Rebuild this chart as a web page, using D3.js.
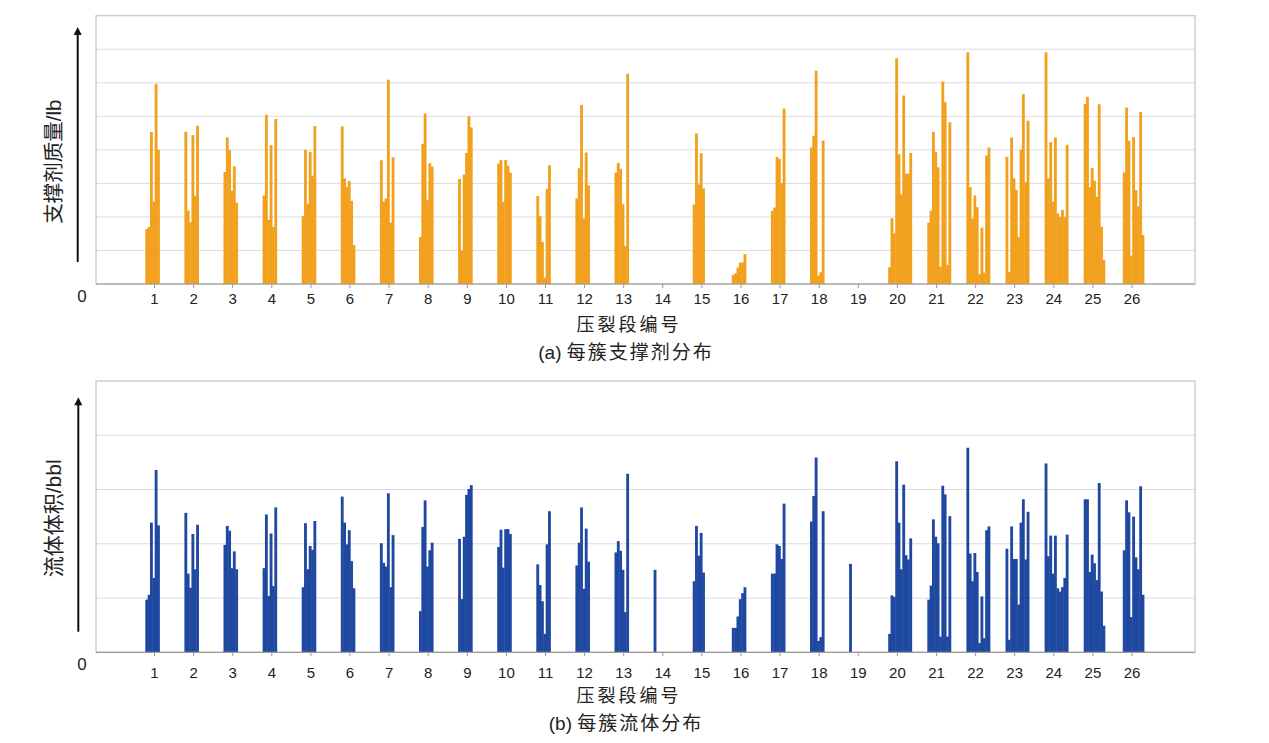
<!DOCTYPE html>
<html>
<head>
<meta charset="utf-8">
<script src="https://cdn.jsdelivr.net/npm/d3@7"></script>
<style>
  body { margin: 0; background: #fff; }
  text { font-family: "Liberation Sans", Arial, "Noto Sans CJK SC", sans-serif; fill: #222; }
  .cjk { font-family: "Liberation Sans", "Noto Sans CJK SC", sans-serif; }
</style>
</head>
<body>
<div id="chart"></div>
<script>
// stage numbers on the x axis
var stages = d3.range(1, 27);

// proppant per cluster, one list per stage (in grid units, no scale shown)
var proppant = [
  [1.64, 1.70, 4.53, 2.46, 5.97, 4.00],
  [4.54, 2.19, 1.84, 4.44, 2.63, 4.72],
  [3.34, 4.37, 3.99, 2.78, 3.51, 2.42],
  [2.64, 5.05, 1.91, 4.14, 1.70, 4.92],
  [2.03, 4.00, 2.39, 3.94, 3.23, 4.71],
  [4.70, 3.15, 2.89, 3.07, 2.48, 1.16],
  [3.69, 2.46, 2.55, 6.09, 1.83, 3.78],
  [1.40, 4.18, 5.08, 2.50, 3.60, 3.50],
  [3.13, 1.00, 3.26, 3.91, 5.00, 4.67],
  [3.59, 3.70, 2.45, 3.70, 3.53, 3.32],
  [2.62, 2.02, 1.25, 0.19, 2.84, 3.54],
  [2.55, 3.45, 5.34, 1.95, 3.92, 2.94],
  [3.32, 3.61, 3.43, 2.38, 1.13, 6.27],
  [],
  [2.37, 4.49, 2.97, 3.90, 2.85],
  [0.27, 0.32, 0.49, 0.64, 0.64, 0.89],
  [2.18, 2.28, 3.79, 3.73, 3.01, 5.23],
  [4.07, 4.42, 6.36, 0.25, 0.35, 4.28],
  [],
  [0.50, 1.96, 1.51, 6.73, 3.87, 2.67, 5.62, 3.29, 3.29, 3.91],
  [1.83, 2.18, 4.54, 3.94, 3.48, 0.51, 6.04, 5.42, 0.57, 4.82],
  [6.91, 2.89, 1.95, 2.64, 2.29, 0.29, 1.68, 0.34, 3.83, 4.07],
  [3.79, 0.36, 4.37, 3.15, 2.81, 1.40, 4.00, 5.66, 3.04, 4.87],
  [6.91, 3.15, 4.23, 2.46, 4.37, 2.10, 2.00, 2.21, 2.00, 4.15],
  [5.37, 5.58, 2.89, 3.46, 3.08, 2.60, 5.36, 1.71, 0.72],
  [3.33, 5.26, 4.27, 0.84, 4.38, 2.80, 2.31, 5.13, 1.46]
];

// fluid volume per cluster, one list per stage
var fluid = [
  [0.97, 1.06, 2.39, 1.37, 3.36, 2.34],
  [2.57, 1.45, 1.19, 2.18, 1.53, 2.35],
  [1.98, 2.33, 2.24, 1.55, 1.86, 1.53],
  [1.55, 2.54, 1.04, 2.19, 1.22, 2.67],
  [1.20, 2.38, 1.53, 1.96, 1.89, 2.42],
  [2.87, 2.39, 1.99, 2.25, 1.68, 1.18],
  [2.01, 1.65, 1.58, 2.93, 1.20, 2.16],
  [0.76, 2.31, 2.80, 1.58, 1.88, 2.02],
  [2.09, 0.98, 2.13, 2.90, 3.01, 3.08],
  [1.94, 2.26, 1.56, 2.27, 2.27, 2.18],
  [1.62, 1.24, 0.94, 0.34, 1.99, 2.60],
  [1.60, 2.02, 2.67, 1.17, 2.28, 1.67],
  [1.84, 2.05, 1.87, 1.52, 0.74, 3.29],
  [1.52],
  [1.31, 2.33, 1.78, 2.20, 1.47],
  [0.45, 0.45, 0.66, 0.98, 1.09, 1.20],
  [1.45, 1.45, 1.99, 1.96, 1.72, 2.74],
  [2.41, 2.88, 3.59, 0.21, 0.28, 2.60],
  [1.63],
  [0.34, 1.05, 1.02, 3.52, 2.39, 1.53, 3.09, 1.79, 1.71, 2.10],
  [0.97, 1.23, 2.45, 2.13, 2.01, 0.29, 3.07, 2.91, 0.29, 2.51],
  [3.77, 1.82, 1.31, 1.83, 1.48, 0.17, 1.03, 0.26, 2.25, 2.32],
  [1.91, 0.23, 2.32, 1.72, 1.72, 0.88, 2.39, 2.82, 1.71, 2.59],
  [3.48, 1.77, 2.15, 1.45, 2.15, 1.18, 1.12, 1.20, 1.37, 2.17],
  [2.82, 2.82, 1.48, 1.80, 1.64, 1.33, 3.12, 1.12, 0.49],
  [1.88, 2.80, 2.58, 0.65, 2.50, 1.75, 1.53, 3.06, 1.06]
];

var W = 1269, H = 743;
var plotLeft = 96, plotRight = 1195;

var svg = d3.select("#chart").append("svg")
    .attr("width", W)
    .attr("height", H);

var xscale = d3.scaleLinear()
    .domain([1, 26])
    .range([154, 1131.5]);

// cluster slot width and group start, in stage units
var slot = 0.06;
var groupStart = -0.2225;

function drawPanel(cfg){
  var g = svg.append("g");

  var yscale = d3.scaleLinear()
      .domain([0, cfg.max])
      .range([cfg.bottom, cfg.top]);

  // gridlines
  g.selectAll(".grid").data(d3.range(1, cfg.max))
    .enter().append("line")
      .attr("x1", plotLeft).attr("x2", plotRight)
      .attr("y1", function(d){ return yscale(d); })
      .attr("y2", function(d){ return yscale(d); })
      .attr("stroke", "#dcdcdc")
      .attr("stroke-width", 1);

  // frame
  g.append("rect")
      .attr("x", plotLeft).attr("y", yscale(cfg.max))
      .attr("width", plotRight - plotLeft)
      .attr("height", yscale(0) - yscale(cfg.max))
      .attr("fill", "none")
      .attr("stroke", "#c4c4c4")
      .attr("stroke-width", 1.2);

  // bars
  var bars = [];
  cfg.data.forEach(function(vals, si){
    vals.forEach(function(v, i){
      bars.push({ stage: stages[si], i: i, v: v });
    });
  });
  var bw = xscale(1 + slot) - xscale(1);
  g.selectAll(".bar").data(bars)
    .enter().append("rect")
      .attr("class", "bar")
      .attr("x", function(d){ return xscale(d.stage + groupStart + d.i * slot); })
      .attr("width", bw + 0.5)
      .attr("y", function(d){ return yscale(d.v); })
      .attr("height", function(d){ return yscale(0) - yscale(d.v); })
      .attr("fill", cfg.color);

  // baseline
  g.append("line")
      .attr("x1", plotLeft).attr("x2", plotRight)
      .attr("y1", yscale(0)).attr("y2", yscale(0))
      .attr("stroke", "#9a9a9a")
      .attr("stroke-width", 1.2);

  // x axis
  var axis = d3.axisBottom(xscale)
      .tickValues(stages)
      .tickFormat(d3.format("d"))
      .tickSize(4)
      .tickPadding(cfg.tickPad);
  var ax = g.append("g")
      .attr("transform", "translate(0," + yscale(0) + ")")
      .call(axis);
  ax.select(".domain").remove();
  ax.selectAll(".tick line").attr("stroke", "#9a9a9a");
  ax.selectAll(".tick text")
      .attr("fill", "#222")
      .style("font-size", "15px")
      .style("font-family", "'Liberation Sans', Arial, sans-serif");

  // zero label
  g.append("text")
      .attr("x", 82).attr("y", cfg.zeroY)
      .attr("text-anchor", "middle")
      .style("font-size", "17px")
      .text("0");

  // y arrow
  g.append("line")
      .attr("x1", cfg.arrowX).attr("x2", cfg.arrowX)
      .attr("y1", cfg.arrowFrom).attr("y2", cfg.arrowTo + 7)
      .attr("stroke", "#111")
      .attr("stroke-width", 2);
  g.append("path")
      .attr("d", "M" + (cfg.arrowX - 4) + "," + (cfg.arrowTo + 8) +
                 "L" + (cfg.arrowX + 4) + "," + (cfg.arrowTo + 8) +
                 "L" + cfg.arrowX + "," + cfg.arrowTo + "Z")
      .attr("fill", "#111");

  // y title
  g.append("text")
      .attr("class", "cjk")
      .attr("transform", "translate(53.5," + cfg.yTitleY + ") rotate(-90)")
      .attr("text-anchor", "middle")
      .attr("dominant-baseline", "central")
      .style("font-size", cfg.yTitleSize + "px")
      .text(cfg.yTitle);

  // x title and caption
  g.append("text")
      .attr("class", "cjk")
      .attr("x", 629).attr("y", cfg.xTitleY)
      .attr("text-anchor", "middle")
      .style("font-size", "18px")
      .style("letter-spacing", "3px")
      .text("压裂段编号");
  var cap = g.append("text")
      .attr("class", "cjk")
      .attr("x", 626).attr("y", cfg.captionY)
      .attr("text-anchor", "middle")
      .style("font-size", "19px");
  cap.append("tspan").text(cfg.captionTag + " ");
  cap.append("tspan").style("letter-spacing", "2px").text(cfg.caption);
}

drawPanel({
  data: proppant, max: 8, top: 15.7, bottom: 284, color: "#F2A11F",
  tickPad: 5, zeroY: 301.5,
  arrowX: 77.7, arrowFrom: 262, arrowTo: 27,
  yTitle: "支撑剂质量/lb", yTitleY: 161.7, yTitleSize: 20.5,
  xTitleY: 330.5, captionY: 358.5, captionTag: "(a)", caption: "每簇支撑剂分布"
});

drawPanel({
  data: fluid, max: 5, top: 381, bottom: 652.3, color: "#1F49A0",
  tickPad: 11, zeroY: 670,
  arrowX: 78.3, arrowFrom: 631.7, arrowTo: 397.3,
  yTitle: "流体体积/bbl", yTitleY: 518.3, yTitleSize: 21,
  xTitleY: 701.5, captionY: 730, captionTag: "(b)", caption: "每簇流体分布"
});
</script>
</body>
</html>
